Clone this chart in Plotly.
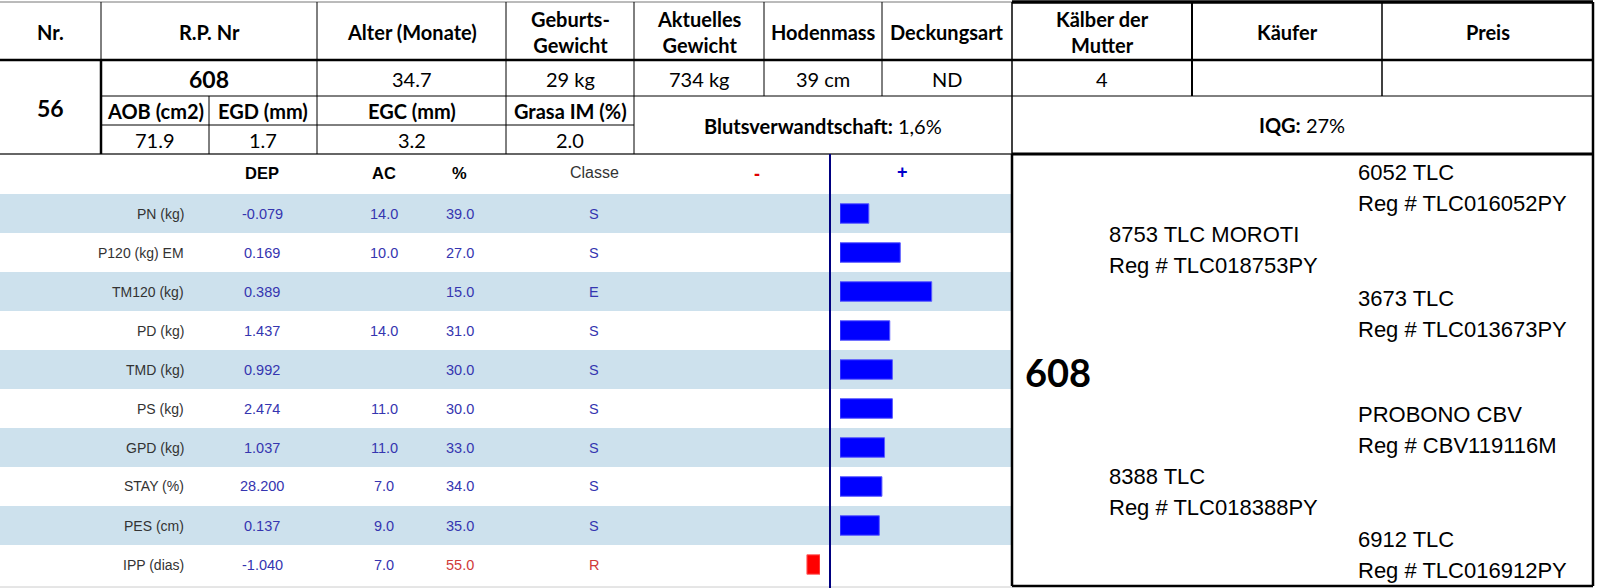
import plotly.graph_objects as go

W, H = 1597, 588

# --- obere Tabelle ---
kopf_labels = ["Nr.", "R.P. Nr", "Alter (Monate)", "Geburts-<br>Gewicht", "Aktuelles<br>Gewicht",
               "Hodenmass", "Deckungsart", "Kälber der<br>Mutter", "Käufer", "Preis"]
kopf_werte = ["", "608", "34.7", "29 kg", "734 kg", "39 cm", "ND", "4", "", ""]
tier_nr = "56"
mess_labels = ["AOB (cm2)", "EGD (mm)", "EGC (mm)", "Grasa IM (%)"]
mess_werte = ["71.9", "1.7", "3.2", "2.0"]
blutsverwandtschaft = "1,6%"
iqg = "27%"

# --- DEP Tabelle ---
merkmale = ["PN (kg)", "P120 (kg) EM", "TM120 (kg)", "PD (kg)", "TMD (kg)",
            "PS (kg)", "GPD (kg)", "STAY (%)", "PES (cm)", "IPP (dias)"]
dep = ["-0.079", "0.169", "0.389", "1.437", "0.992", "2.474", "1.037", "28.200", "0.137", "-1.040"]
ac = ["14.0", "10.0", "", "14.0", "", "11.0", "11.0", "7.0", "9.0", "7.0"]
prozent = [39.0, 27.0, 15.0, 31.0, 30.0, 30.0, 33.0, 34.0, 35.0, 55.0]
classe = ["S", "S", "E", "S", "S", "S", "S", "S", "S", "R"]
balken = [11, 23, 35, 19, 20, 20, 17, 16, 15, -5]

# --- Stammbaum ---
tier = "608"
stammbaum_namen = ["8753 TLC MOROTI", "8388 TLC", "6052 TLC", "3673 TLC", "PROBONO CBV", "6912 TLC"]
stammbaum_reg = ["Reg # TLC018753PY", "Reg # TLC018388PY", "Reg # TLC016052PY",
                 "Reg # TLC013673PY", "Reg # CBV119116M", "Reg # TLC016912PY"]


def px(x):
    return x / W


def py(y):
    return 1 - y / H


shapes = []
annotations = []


def linie(x0, y0, x1, y1, breite=1, farbe="black"):
    shapes.append(dict(type="line", xref="paper", yref="paper",
                       x0=px(x0), y0=py(y0), x1=px(x1), y1=py(y1),
                       line=dict(color=farbe, width=breite)))


def text(x, y, t, size=14, farbe="black", font="Lato", xanchor="center"):
    annotations.append(dict(xref="paper", yref="paper", x=px(x), y=py(y), text=t,
                            showarrow=False, xanchor=xanchor, yanchor="middle",
                            font=dict(family=font, size=size, color=farbe)))


# Spaltengrenzen obere Tabelle
kx = [0, 101, 317, 506, 634, 764, 882, 1012, 1192, 1382, 1593]
mx = [101, 209, 317, 506, 634]

# Gitter obere Tabelle
linie(0, 2, 1012, 2, 1, "#777")
linie(1012, 2, 1593, 2, 3.5)
linie(0, 60, 1593, 60, 2.5)
linie(101, 96, 1593, 96, 1)
linie(101, 125, 634, 125, 1)
linie(0, 154, 1012, 154, 1.5, "#333")
linie(1012, 154, 1593, 154, 3)
linie(101, 2, 101, 60, 1)
linie(101, 60, 101, 154, 2.5)
linie(209, 96, 209, 154, 1)
for x in [317, 506, 634]:
    linie(x, 2, x, 154, 1)
for x in [764, 882]:
    linie(x, 2, x, 96, 1)
linie(1012, 2, 1012, 154, 1.5)
linie(1192, 2, 1192, 96, 2)
linie(1382, 2, 1382, 96, 1.5)
linie(1593, 2, 1593, 154, 2.5)

for i, lab in enumerate(kopf_labels):
    xc = (kx[i] + kx[i + 1]) / 2
    text(xc, 32, "<b>" + lab + "</b>", size=20)
    if kopf_werte[i]:
        if i == 1:
            text(xc, 79, "<b>" + kopf_werte[i] + "</b>", size=23)
        else:
            text(xc, 79, kopf_werte[i], size=20)
text(50, 108, "<b>" + tier_nr + "</b>", size=23)
for i in range(len(mess_labels)):
    xc = (mx[i] + mx[i + 1]) / 2
    text(xc, 111, "<b>" + mess_labels[i] + "</b>", size=20)
    text(xc, 140, mess_werte[i], size=20)
text(823, 126, "<b>Blutsverwandtschaft:</b> " + blutsverwandtschaft, size=20)
text(1302, 125, "<b>IQG:</b> " + iqg, size=20)

# DEP Tabelle
top, zeile = 194, 39
arial = "Liberation Sans, Arial"
blau = "#3535b0"
rot = "#d03a3a"
for i in range(len(merkmale)):
    if i % 2 == 0:
        shapes.append(dict(type="rect", xref="paper", yref="paper", layer="below",
                           x0=px(0), x1=px(1012), y0=py(top + zeile * i), y1=py(top + zeile * (i + 1)),
                           fillcolor="#cde1ed", line=dict(width=0)))
linie(0, 587, 1012, 587, 1, "#cccccc")

text(262, 173, "<b>DEP</b>", size=16.5, font=arial)
text(384, 173, "<b>AC</b>", size=16.5, font=arial)
text(460, 173, "<b>%</b>", size=16.5, font=arial)
text(594, 173, "Classe", size=16, farbe="#333333", font=arial)
text(757, 174, "<b>-</b>", size=18, farbe="#e00000", font=arial)
text(903, 172, "<b>+</b>", size=18, farbe="#0000cc", font=arial)

for i in range(len(merkmale)):
    yc = top + zeile * i + zeile / 2
    f = rot if classe[i] == "R" else blau
    text(186, yc, merkmale[i], size=14, farbe="#333333", font=arial, xanchor="right")
    text(262, yc, dep[i], size=14.5, farbe=blau, font=arial)
    if ac[i]:
        text(384, yc, ac[i], size=14.5, farbe=blau, font=arial)
    text(460, yc, "%.1f" % prozent[i], size=14.5, farbe=f, font=arial)
    text(594, yc, classe[i], size=14.5, farbe=f, font=arial)

linie(830, 154, 830, 588, 2, "#000080")

# Stammbaum Kasten
linie(1012, 154, 1012, 586, 2.5)
linie(1593, 154, 1593, 586, 2.5)
linie(1012, 586, 1593, 586, 2.5)
text(1023, 372, "<b>" + tier + "</b>", size=38, xanchor="left")
slots = [(1107, 234), (1107, 476), (1356, 172), (1356, 298), (1356, 414), (1356, 539)]
for (x, y), name, reg in zip(slots, stammbaum_namen, stammbaum_reg):
    text(x, y, name, size=22, font=arial, xanchor="left")
    text(x, y + 31, reg, size=22, font=arial, xanchor="left")

# Balken
PX = 2.62
pos = [v if v > 0 else None for v in balken]
neg = [v if v < 0 else None for v in balken]

fig = go.Figure()
fig.add_trace(go.Bar(y=merkmale, x=pos, orientation="h", xaxis="x2", yaxis="y2",
                     marker=dict(color="#0000ff", line=dict(color="#5a5aff", width=1)),
                     hoverinfo="skip"))
fig.add_trace(go.Bar(y=merkmale, x=neg, orientation="h", xaxis="x3", yaxis="y2",
                     marker=dict(color="#ff0000", line=dict(color="#ff6a6a", width=1)),
                     hoverinfo="skip"))

fig.update_layout(
    width=W, height=H,
    margin=dict(l=0, r=0, t=0, b=0),
    paper_bgcolor="white",
    plot_bgcolor="rgba(0,0,0,0)",
    showlegend=False,
    bargap=0.5,
    xaxis2=dict(domain=[px(840), px(1012)], range=[0, (1012 - 840) / PX], visible=False,
                anchor="y2", fixedrange=True),
    xaxis3=dict(domain=[px(650), px(820)], range=[-(820 - 650) / PX, 0], visible=False,
                anchor="y2", fixedrange=True),
    yaxis2=dict(domain=[py(584), py(194)], type="category", categoryorder="array",
                categoryarray=merkmale, range=[9.5, -0.5], visible=False,
                anchor="x2", fixedrange=True),
    shapes=shapes,
    annotations=annotations,
)

fig.write_html("out.html", config={"displayModeBar": False},
               post_script="document.body.style.margin='0';")
